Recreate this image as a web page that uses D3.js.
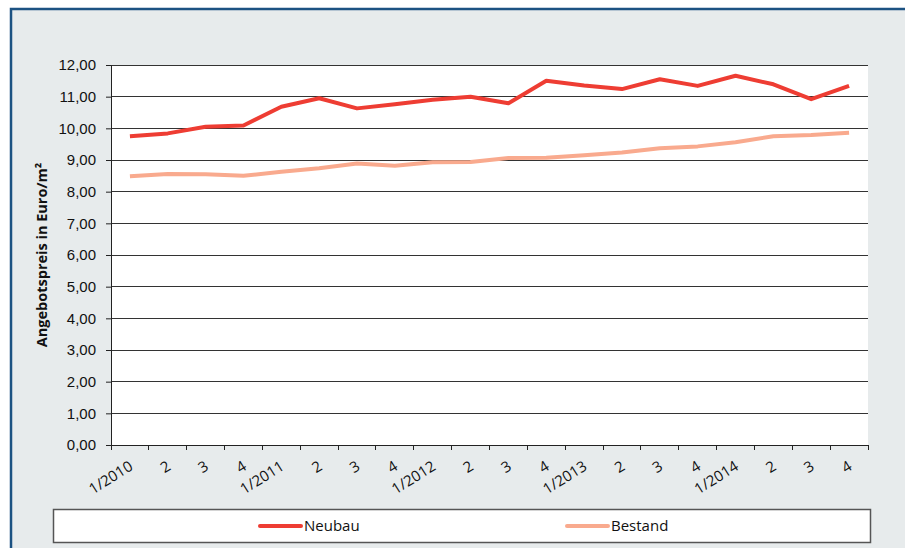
<!DOCTYPE html>
<html><head><meta charset="utf-8">
<script src="https://cdn.jsdelivr.net/npm/d3@7"></script>
<style>
html,body{margin:0;padding:0;background:#fff;}
svg{display:block;font-family:"Open Sans","Noto Sans",sans-serif;}
</style></head>
<body>
<svg id="c" width="905" height="548"></svg>
<script>
const categories = ["1/2010","2","3","4","1/2011","2","3","4","1/2012","2","3","4","1/2013","2","3","4","1/2014","2","3","4"];
const neubau = [9.75,9.84,10.05,10.09,10.68,10.95,10.63,10.76,10.9,11.0,10.79,11.5,11.35,11.24,11.55,11.34,11.66,11.39,10.92,11.34];
const bestand = [8.49,8.56,8.55,8.5,8.63,8.74,8.89,8.82,8.93,8.94,9.06,9.07,9.15,9.24,9.37,9.43,9.56,9.75,9.79,9.86];
const yTicks = [0,1,2,3,4,5,6,7,8,9,10,11,12];
const seriesNames = ["Neubau","Bestand"];
const seriesColors = ["#ee3d33","#f9aa8e"];

const svg = d3.select("#c");
// frame
svg.append("rect").attr("x",11).attr("y",9).attr("width",1000).attr("height",600)
  .attr("fill","#e7ebec").attr("stroke","#1c5282").attr("stroke-width",2.5);

const L=111, R=868, T=65, B=445;
const x = d3.scaleBand().domain(d3.range(categories.length)).range([L,R]);
const y = d3.scaleLinear().domain([0,12]).range([B,T]);

svg.append("rect").attr("x",L).attr("y",T).attr("width",R-L).attr("height",B-T).attr("fill","#fff");

// grid
svg.append("g").selectAll("line").data(yTicks.filter(d=>d>0)).join("line")
  .attr("x1",L).attr("x2",R).attr("y1",d=>y(d)).attr("y2",d=>y(d))
  .attr("stroke","#333").attr("stroke-width",1).attr("shape-rendering","crispEdges");

// y axis
const fmt = d => d3.format(".2f")(d).replace(".",",");
const ya = svg.append("g").attr("transform",`translate(${L},0)`)
  .call(d3.axisLeft(y).tickValues(yTicks).tickFormat(fmt).tickSizeOuter(0).tickSize(5).tickPadding(10));
ya.select(".domain").attr("stroke","#222");
ya.selectAll(".tick line").attr("stroke","#222");
ya.selectAll("text").attr("font-size",15).attr("fill","#111");

// x axis with ticks at category boundaries
const xa = svg.append("g").attr("transform",`translate(0,${B})`);
xa.append("line").attr("x1",L).attr("x2",R).attr("y1",0).attr("y2",0).attr("stroke","#222").attr("shape-rendering","crispEdges");
xa.selectAll(".tk").data(d3.range(categories.length+1)).join("line")
  .attr("x1",i=>L+i*x.step()).attr("x2",i=>L+i*x.step()).attr("y1",0).attr("y2",5)
  .attr("stroke","#222").attr("shape-rendering","crispEdges");
xa.selectAll("text").data(categories).join("text")
  .attr("transform",(d,i)=>`translate(${x(i)+x.bandwidth()/2+4},${24}) rotate(-32)`)
  .attr("text-anchor","end").attr("font-size",15).attr("fill","#111").text(d=>d);

// y title
svg.append("text").attr("transform",`translate(47,${(T+B)/2}) rotate(-90)`)
  .attr("text-anchor","middle").attr("font-size",14.5).attr("font-weight","bold").attr("fill","#111")
  .text("Angebotspreis in Euro/m²");

// lines
const line = d3.line().x((d,i)=>x(i)+x.bandwidth()/2).y(d=>y(d));
[bestand, neubau].forEach((s,k)=>{
  const idx = k===0?1:0;
  svg.append("path").attr("d",line(s)).attr("fill","none")
    .attr("stroke",seriesColors[idx]).attr("stroke-width",4).attr("stroke-linejoin","round");
});

// legend
svg.append("rect").attr("x",53.5).attr("y",509.5).attr("width",817).attr("height",33)
  .attr("fill","#fff").attr("stroke","#555").attr("stroke-width",1.5);
const legX = [260,567];
seriesNames.forEach((n,i)=>{
  svg.append("line").attr("x1",legX[i]).attr("x2",legX[i]+41).attr("y1",526).attr("y2",526)
    .attr("stroke",seriesColors[i]).attr("stroke-width",4).attr("stroke-linecap","round");
  svg.append("text").attr("x",legX[i]+44).attr("y",531).attr("font-size",15).attr("fill","#111").text(n);
});
</script>
</body></html>
